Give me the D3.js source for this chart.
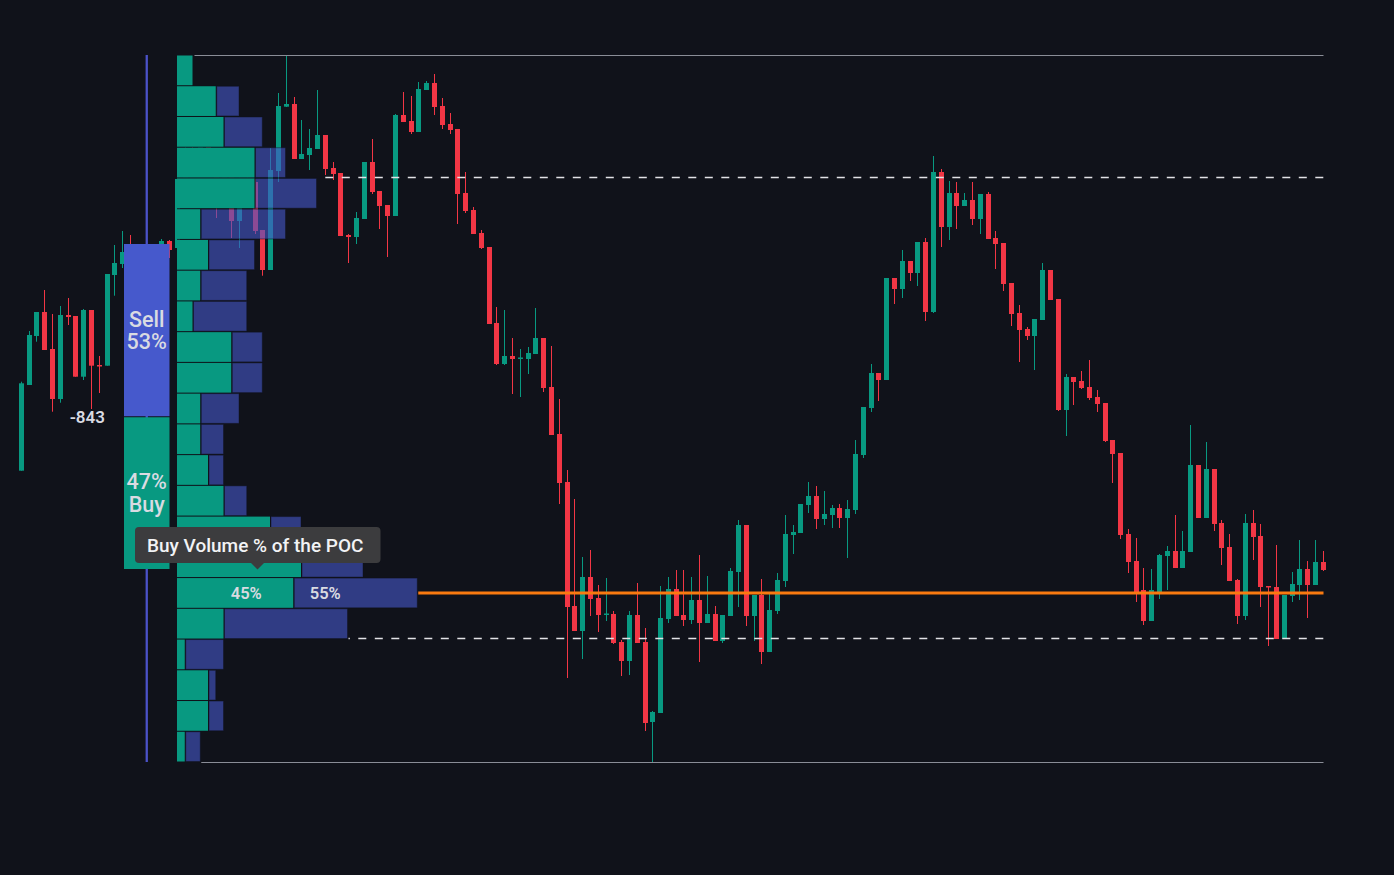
<!DOCTYPE html>
<html>
<head>
<meta charset="utf-8">
<script src="https://cdn.jsdelivr.net/npm/d3@7"></script>
<style>
  html, body { margin: 0; padding: 0; background: #10121a; }
  svg { display: block; }
  text { font-family: Roboto, "Noto Sans", "DejaVu Sans", sans-serif; }
</style>
</head>
<body>
<svg id="chart" width="1394" height="875"></svg>
<script>
// ---------------- DATA ----------------
const open = [
129.13,137.7,142.6,145.0,141.3,136.3,144.7,144.6,138.53,145.2,
139.7,139.63,148.7,149.8,151.0,149.2,150.7,148.7,150.7,152.1,
151.4,158.3,161.2,159.7,163.7,160.2,156.2,158.7,154.1,157.4,
158.0,153.2,149.2,159.1,165.53,165.8,160.3,160.7,161.3,162.7,
159.4,158.9,152.7,152.5,154.3,160.0,157.1,155.7,154.6,164.7,
164.1,163.0,167.2,167.9,165.6,163.8,163.3,156.9,155.2,152.9,
151.5,143.9,139.8,140.6,140.35,140.3,140.8,142.4,137.5,132.8,
128.0,115.6,113.1,118.5,116.4,114.75,114.8,112.0,110.1,114.7,
112.0,104.0,104.9,114.3,117.3,114.7,114.2,116.2,113.9,114.8,
112.1,114.6,119.0,123.7,114.6,116.7,111.0,115.1,118.1,122.7,
122.9,125.7,126.6,124.3,124.7,125.4,124.4,125.2,130.7,135.4,
138.9,138.2,148.4,147.3,150.1,148.9,152.0,145.0,159.0,153.5,
156.9,155.6,156.2,154.3,156.8,152.4,151.9,147.9,144.9,143.3,
142.6,144.2,149.2,146.3,135.2,138.5,138.1,137.5,136.5,135.9,
132.2,130.9,122.8,120.1,117.2,114.1,117.0,120.6,121.1,119.4,
121.0,129.7,124.4,129.3,123.9,121.5,118.2,114.6,123.9,122.6,
117.6,117.5,112.3,116.6,117.7,119.3,117.7,120.0];
const high = [
138.03,143.1,145.0,147.2,144.8,145.6,146.4,144.6,145.3,145.2,
140.6,148.8,151.7,153.1,152.7,151.2,151.4,151.6,152.3,152.2,
158.5,162.2,163.2,164.2,164.4,161.0,160.2,159.7,159.2,158.7,
158.3,153.2,161.4,166.9,170.7,166.5,164.2,163.3,167.2,162.7,
160.0,158.9,152.8,155.0,160.0,162.3,157.1,155.7,164.8,167.0,
166.6,168.0,168.1,168.8,166.4,164.9,163.3,159.0,155.5,153.2,
151.5,145.5,145.2,142.4,141.3,141.5,145.4,142.4,141.6,136.3,
129.2,126.3,120.5,121.2,117.7,118.4,115.1,112.2,115.1,117.9,
113.4,105.1,117.6,118.5,119.2,119.2,118.5,120.7,118.6,115.6,
114.7,119.4,124.2,123.7,116.7,118.3,116.8,118.9,124.7,123.7,
125.8,128.0,127.6,127.1,125.7,125.8,126.2,132.2,135.5,139.8,
138.9,148.4,148.4,151.2,150.1,152.0,152.4,160.6,159.3,158.1,
158.0,156.9,158.0,156.8,157.0,153.1,151.9,147.9,145.7,143.5,
144.3,149.9,149.2,146.3,138.8,138.5,139.1,140.2,137.2,135.9,
132.2,130.9,123.3,122.4,119.4,119.3,120.8,121.6,124.7,123.1,
133.7,129.7,132.0,129.3,124.2,122.8,118.3,124.8,125.2,123.8,
117.6,121.7,116.7,119.0,122.2,120.1,122.2,121.1];
const low = [
129.13,137.7,142.03,141.2,135.03,135.93,143.7,138.53,138.2,135.3,
136.9,139.63,146.63,149.4,148.2,147.7,147.2,148.0,149.4,150.4,
151.2,157.7,159.0,159.2,159.4,154.4,155.7,152.4,151.4,155.8,
152.8,148.63,149.2,158.0,165.5,160.3,160.3,159.2,161.3,158.7,
158.2,152.6,149.9,151.8,154.3,156.8,153.3,150.5,154.6,164.0,
162.8,163.0,167.2,164.7,163.3,162.8,153.8,154.9,152.8,151.3,
143.8,139.7,139.7,136.8,136.5,138.8,140.8,137.0,132.7,125.8,
108.4,113.1,110.3,114.6,113.0,114.1,111.8,108.6,108.7,111.9,
103.1,100.0,104.9,113.9,114.6,113.6,113.8,110.0,113.9,112.1,
111.9,114.6,115.5,113.6,112.1,109.8,111.0,114.8,117.5,120.8,
122.9,124.9,123.3,123.7,123.4,123.4,120.4,124.8,130.4,135.0,
136.1,138.2,145.8,146.4,148.1,147.6,144.1,144.9,151.5,152.2,
153.3,155.6,153.7,152.8,152.3,149.3,147.1,143.6,140.0,142.2,
139.2,144.2,146.2,135.1,132.6,135.7,137.3,136.2,135.0,132.0,
127.9,122.3,118.9,116.0,113.7,114.1,116.3,117.2,119.4,119.4,
121.0,124.4,124.4,123.1,119.7,118.1,113.8,114.2,120.2,115.5,
111.6,112.3,112.3,116.0,116.2,114.4,117.7,119.1];
const close = [
137.87,142.7,145.0,141.2,136.3,144.7,144.5,138.53,145.2,139.63,
139.6,148.8,149.9,151.0,149.2,150.7,148.7,151.2,152.1,151.2,
158.3,161.2,159.7,163.7,160.2,156.2,158.7,154.1,157.7,158.0,
153.1,149.2,159.2,165.6,165.8,160.3,160.8,161.4,162.7,159.3,
158.8,152.6,152.5,154.4,160.0,157.0,155.6,154.6,164.7,164.0,
163.0,167.3,167.9,165.5,163.7,163.2,156.8,155.1,152.8,151.4,
143.8,139.8,140.6,140.3,140.45,140.9,142.4,137.4,132.7,127.9,
115.5,113.1,118.5,116.3,114.7,114.85,111.9,110.1,114.7,111.9,
103.9,105.0,114.4,117.3,114.6,114.2,116.2,113.9,114.8,112.1,
114.7,119.1,123.7,114.6,116.7,111.0,115.2,118.2,122.8,123.0,
125.8,126.6,124.3,124.8,125.4,124.4,125.3,130.8,135.5,138.9,
138.2,148.4,147.3,150.1,148.9,152.0,145.0,159.0,153.5,156.9,
155.6,156.2,154.3,156.8,152.3,151.8,147.8,144.8,143.2,142.6,
144.3,149.2,146.2,135.2,138.5,138.0,137.4,136.4,135.8,132.1,
130.8,122.7,120.0,117.0,114.1,117.2,120.7,121.1,119.4,121.1,
129.7,124.4,129.3,123.8,121.4,118.1,114.6,123.9,122.5,117.5,
117.5,112.3,116.7,117.8,119.3,117.7,120.0,119.2];

// volume profile rows, from the highest price row to the lowest
const profileBuy  = [2,5,6,10,10,3,4,3,2,7,7,3,3,4,6,12,16,15,6,1,4,4,1];
const profileSell = [0,3,5,4,8,11,6,6,7,4,4,5,3,2,3,4,8,16,16,5,1,2,2];

const priceLow = 100.0, priceHigh = 170.7;
const valueAreaHigh = 158.45, valueAreaLow = 112.35;

const totalSellPct = 53, totalBuyPct = 47;
const deltaValue = -843;
const pocBuyPct = 45, pocSellPct = 55;
const tooltipText = "Buy Volume % of the POC";

// ---------------- STYLE / LAYOUT ----------------
const BG = "#10121a", UP = "#089981", DN = "#f23645";
const SELL_BLUE = "#4659cc", LINE_BLUE = "#4b52c8", POC_ORANGE = "#f97a10";
const TXT = "#d9dbe2";
const plot = { left: 17.4, right: 1327.2, top: 55, bottom: 762, end: 1323.5 };
const profLeft = 177;
const summary = { x: 124, w: 45.5, h: 325, shift: -2 };

const svg = d3.select("#chart");
svg.append("rect").attr("width", 1394).attr("height", 875).attr("fill", BG);

const y = d3.scaleLinear().domain([priceLow, priceHigh]).range([plot.bottom, plot.top]);
const x = d3.scaleBand().domain(d3.range(open.length))
  .range([plot.left, plot.right]).paddingInner(0.36).paddingOuter(0.18);

// vertical session line
const vlineX = summary.x + summary.w / 2;
svg.append("line").attr("x1", vlineX).attr("x2", vlineX)
  .attr("y1", plot.top).attr("y2", plot.bottom)
  .attr("stroke", LINE_BLUE).attr("stroke-width", 2.3);

// ---------------- CANDLES ----------------
const candles = open.map((o, i) => ({ i, o, h: high[i], l: low[i], c: close[i] }));
const gC = svg.append("g");
const cg = gC.selectAll("g").data(candles).join("g")
  .attr("fill", d => d.c >= d.o ? UP : DN);
cg.append("rect")
  .attr("x", d => Math.floor(x(d.i) + x.bandwidth() / 2))
  .attr("width", 1)
  .attr("y", d => y(d.h))
  .attr("height", d => Math.max(1, y(d.l) - y(d.h)));
cg.append("rect")
  .attr("x", d => Math.floor(x(d.i) + x.bandwidth() / 2) - 2)
  .attr("width", 5)
  .attr("y", d => y(Math.max(d.o, d.c)))
  .attr("height", d => Math.max(1.5, y(Math.min(d.o, d.c)) - y(Math.max(d.o, d.c))));

// ---------------- VOLUME PROFILE ----------------
const nRows = profileBuy.length;
const rowStep = (priceHigh - priceLow) / nRows;
const rows = profileBuy.map((b, k) => ({
  k, b, s: profileSell[k], t: b + profileSell[k],
  top: priceHigh - k * rowStep, bot: priceHigh - (k + 1) * rowStep
}));
const maxTot = d3.max(rows, r => r.t);
const vx = d3.scaleLinear().domain([0, maxTot]).range([0, 240.25]);
const pocRow = rows.reduce((a, r) => r.t > a.t ? r : a, rows[0]);
const pocPrice = (pocRow.top + pocRow.bot) / 2;
const rowEnd = r => profLeft + vx(r.t);

// top / bottom border lines
svg.append("line").attr("x1", rowEnd(rows[0]) + 2).attr("x2", plot.end)
  .attr("y1", plot.top + 0.5).attr("y2", plot.top + 0.5)
  .attr("stroke", "#8a8d97").attr("stroke-width", 1);
svg.append("line").attr("x1", rowEnd(rows[nRows - 1]) + 1).attr("x2", plot.end)
  .attr("y1", plot.bottom + 0.5).attr("y2", plot.bottom + 0.5)
  .attr("stroke", "#8a8d97").attr("stroke-width", 1);

const gP = svg.append("g");
// opaque backing under the buy part (hides candles in the row gaps)
gP.selectAll("rect.back").data(rows.filter(r => r.b > 0)).join("rect").attr("class", "back")
  .attr("x", profLeft)
  .attr("y", r => y(r.top))
  .attr("width", r => vx(r.b) + 1)
  .attr("height", r => y(r.bot) - y(r.top))
  .attr("fill", BG);
gP.selectAll("rect.buy").data(rows).join("rect").attr("class", "buy")
  .attr("x", profLeft)
  .attr("y", r => y(r.top) + 0.5)
  .attr("width", r => vx(r.b))
  .attr("height", r => y(r.bot) - y(r.top) - 1)
  .attr("fill", UP);
gP.selectAll("rect.sell").data(rows.filter(r => r.s > 0)).join("rect").attr("class", "sell")
  .attr("x", r => profLeft + vx(r.b) + 1)
  .attr("y", r => y(r.top) + 0.5)
  .attr("width", r => vx(r.s) - 1)
  .attr("height", r => y(r.bot) - y(r.top) - 1)
  .attr("fill", SELL_BLUE).attr("fill-opacity", 0.6)
  .attr("stroke", BG).attr("stroke-opacity", 0.45).attr("stroke-width", 1);

// ---------------- LEVEL LINES ----------------
const dashPeriod = 16.5, dashPhase = 11.8;
function dashedLevel(price, startX) {
  const off = ((startX - dashPhase) % dashPeriod + dashPeriod) % dashPeriod;
  svg.append("line").attr("x1", startX).attr("x2", plot.end)
    .attr("y1", y(price)).attr("y2", y(price))
    .attr("stroke", "#e2e2e6").attr("stroke-width", 1.4)
    .attr("stroke-dasharray", "8 8.5").attr("stroke-dashoffset", off);
}
const vahRow = rows.find(r => Math.abs(r.top - valueAreaHigh) < rowStep / 2);
const valRow = rows.find(r => Math.abs(r.bot - valueAreaLow) < rowStep / 2);
dashedLevel(valueAreaHigh, rowEnd(vahRow) + 1);
dashedLevel(valueAreaLow, rowEnd(valRow) + 1);

svg.append("line").attr("x1", rowEnd(pocRow) + 1).attr("x2", plot.end)
  .attr("y1", y(pocPrice)).attr("y2", y(pocPrice))
  .attr("stroke", POC_ORANGE).attr("stroke-width", 3);

// POC buy/sell % labels
const pocY = y(pocPrice);
const greenEnd = profLeft + vx(pocRow.b);
svg.append("text").attr("x", greenEnd - 47).attr("y", pocY + 6)
  .attr("text-anchor", "middle").attr("fill", TXT)
  .attr("font-size", 16.5).attr("font-weight", 600).text(pocBuyPct + "%");
svg.append("text").attr("x", greenEnd + 32).attr("y", pocY + 6)
  .attr("text-anchor", "middle").attr("fill", TXT)
  .attr("font-size", 16.5).attr("font-weight", 600).text(pocSellPct + "%");

// ---------------- SUMMARY BAR ----------------
const midY = (plot.top + plot.bottom) / 2 + summary.shift;
const sTop = midY - summary.h / 2, sBot = midY + summary.h / 2;
const split = sTop + summary.h * totalSellPct / 100;
svg.append("rect").attr("x", summary.x).attr("y", sTop)
  .attr("width", summary.w).attr("height", split - sTop).attr("fill", SELL_BLUE);
svg.append("rect").attr("x", summary.x).attr("y", split + 1)
  .attr("width", summary.w).attr("height", sBot - split - 1).attr("fill", UP);

const sc = summary.x + summary.w / 2;
const sellMid = (sTop + split) / 2, buyMid = (split + sBot) / 2;
function twoLines(l1, l2, mid) {
  svg.append("text").attr("x", sc).attr("y", mid - 3.5).attr("text-anchor", "middle")
    .attr("fill", TXT).attr("font-size", 21.5).attr("font-weight", 500).text(l1);
  svg.append("text").attr("x", sc).attr("y", mid + 19).attr("text-anchor", "middle")
    .attr("fill", TXT).attr("font-size", 21.5).attr("font-weight", 500).text(l2);
}
twoLines("Sell", totalSellPct + "%", sellMid);
twoLines(totalBuyPct + "%", "Buy", buyMid);

svg.append("text").attr("x", 105).attr("y", split + 7)
  .attr("text-anchor", "end").attr("fill", TXT)
  .attr("font-size", 17).attr("font-weight", 600)
  .text(String(deltaValue));

// ---------------- TOOLTIP ----------------
const tip = svg.append("g");
tip.append("rect").attr("x", 135).attr("y", 527).attr("width", 245.5).attr("height", 36)
  .attr("rx", 4).attr("fill", "#3c3c3e");
tip.append("path").attr("d", "M250.5,562.5 L264.5,562.5 L257.5,569.5 Z").attr("fill", "#3c3c3e");
tip.append("text").attr("x", 147).attr("y", 552).attr("fill", "#f2f3f5")
  .attr("font-size", 19).attr("font-weight", 500).text(tooltipText);
</script>
</body>
</html>
